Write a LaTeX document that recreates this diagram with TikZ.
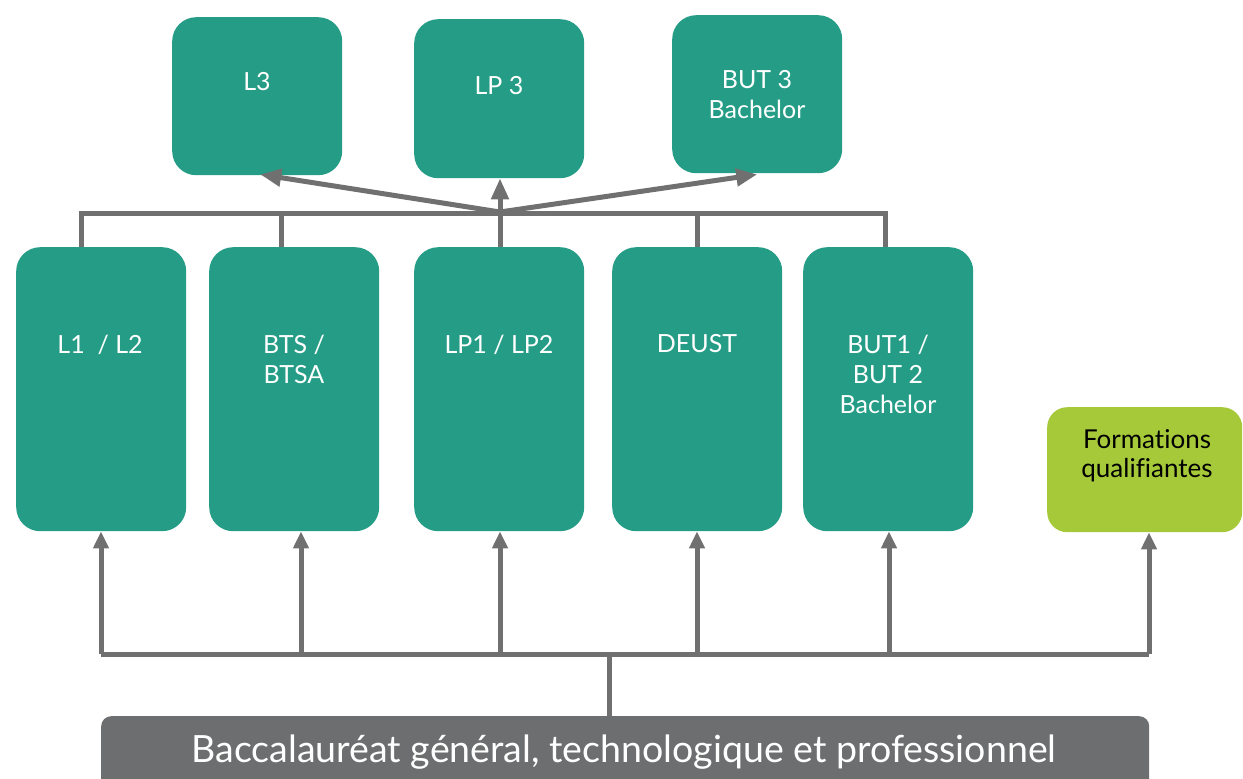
\documentclass[tikz,border=0pt]{standalone}
\usepackage{fontspec}
\setmainfont[Ligatures=NoCommon]{Lato}
\usetikzlibrary{arrows.meta,calc}
\definecolor{tealbox}{RGB}{37,157,134}
\definecolor{greenbox}{RGB}{166,201,58}
\definecolor{linegray}{RGB}{112,112,112}
\definecolor{bacgray}{RGB}{109,110,111}
\begin{document}
\begin{tikzpicture}[x=1pt,y=-1pt,
  box/.style={fill=tealbox, rounded corners=24pt, inner sep=0pt, anchor=north west},
  lbl/.style={text=white, font=\fontsize{25}{30}\selectfont, align=center, anchor=base, inner sep=0pt},
  conn/.style={draw=linegray, line width=5pt},
  arr/.style={draw=linegray, line width=5pt, -{Triangle[length=17pt,width=15pt]}},
  bigarr/.style={draw=linegray, line width=5pt, -{Triangle[length=21pt,width=17pt]}}]
\useasboundingbox (0,0) rectangle (1243,779);
% top boxes
\node[box, minimum width=170pt, minimum height=158pt] (l3) at (172,17) {};
\node[box, minimum width=170pt, minimum height=159pt] (lp3) at (414,19) {};
\node[box, minimum width=170pt, minimum height=158pt] (but3) at (672,15) {};
% middle boxes
\node[box, minimum width=170pt, minimum height=284pt] (l1) at (16,247) {};
\node[box, minimum width=170pt, minimum height=284pt] (bts) at (209,247) {};
\node[box, minimum width=170pt, minimum height=284pt] (lp1) at (414,247) {};
\node[box, minimum width=170pt, minimum height=284pt] (deust) at (612,247) {};
\node[box, minimum width=170pt, minimum height=284pt] (but1) at (803,247) {};
\node[box, fill=greenbox, rounded corners=20pt, minimum width=195pt, minimum height=125pt] (form) at (1047,407) {};
% bottom box
\node[fill=bacgray, rounded corners=10pt, inner sep=0pt, anchor=north west, minimum width=1048pt, minimum height=80pt] (bac) at (101,716) {};
% labels
\node[lbl] (l3t) at (257,90) {L3};
\node[lbl] (lp3t) at (499,94) {LP 3};
\node[lbl] (but3t) at (757,118) {BUT 3\\Bachelor};
\node[lbl] (l1t) at (100,353) {L1\ \ / L2};
\node[lbl] (btst) at (294,383) {BTS /\\BTSA};
\node[lbl] (lp1t) at (499,353) {LP1 / LP2};
\node[lbl] (deustt) at (697,352) {DEUST};
\node[lbl] (but1t) at (888,413) {BUT1 /\\BUT 2\\Bachelor};
\node[lbl, text=black, font=\fontsize{26}{29}\selectfont] (formt) at (1147,477) {Formations\\qualifiantes};
\node[lbl, font=\fontsize{37.5}{40}\selectfont] (bact) at (624,762) {Baccalauréat général, technologique et professionnel};
% top connectors
\coordinate (j) at (500,212);
\draw[conn] (81,247) -- (81,213) -- (885,213) -- (885,247);
\draw[conn] (281,213) -- (281,247);
\draw[conn] (697,213) -- (697,247);
\draw[bigarr] (j) -- ($(l3.south)+(3,-1)$);
\draw[bigarr] (j) -- ($(but3.south)+(0,1)$);
\draw[bigarr] (lp1.north -| j) -- (lp3.south -| j);
% bottom connectors
\coordinate (b) at (609,654);
\draw[conn] (bac.north -| b) -- (b);
\draw[conn] (101,654) -- (1149,654);
\draw[arr] (101,654) -- (l1.south -| 101,0);
\draw[arr] (301,654) -- (bts.south -| 301,0);
\draw[arr] (500,654) -- (lp1.south -| 500,0);
\draw[arr] (697,654) -- (deust.south -| 697,0);
\draw[arr] (889,654) -- (but1.south -| 889,0);
\draw[arr] (1149,654) -- (form.south -| 1149,0);
\end{tikzpicture}
\end{document}
